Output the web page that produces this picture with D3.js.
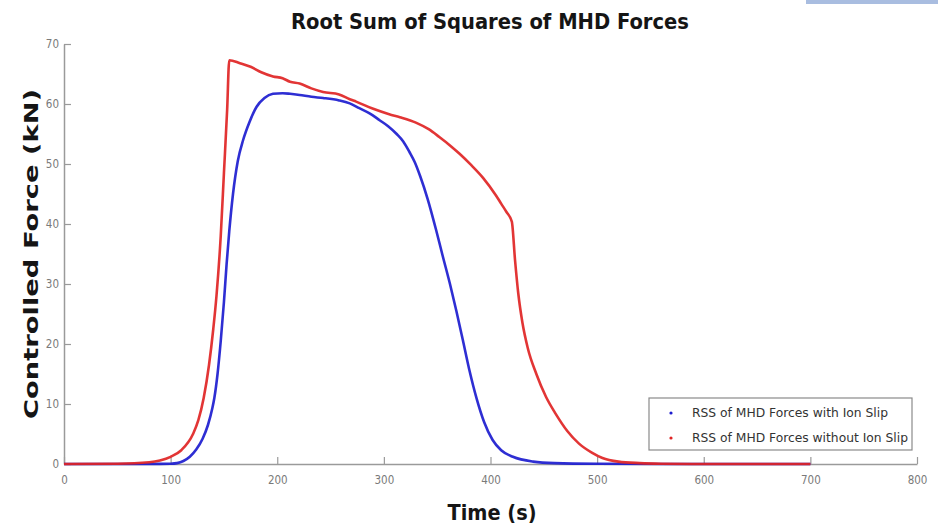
<!DOCTYPE html>
<html>
<head>
<meta charset="utf-8">
<script src="https://cdn.jsdelivr.net/npm/d3@7"></script>
<style>
  html, body { margin: 0; padding: 0; background: #fff; }
  svg { display: block; }
  .cond { font-family: "DejaVu Sans Condensed", "Liberation Sans Narrow", "DejaVu Sans", sans-serif; font-stretch: condensed; }
</style>
</head>
<body>
<svg id="chart" width="938" height="524"></svg>
<script>
// Time samples (s) and RSS of MHD forces (kN)
const timeWithSlip = [0, 60, 90, 100, 106, 112, 118, 124, 130, 135, 139, 141, 144, 147, 150, 152.5, 155, 158.5, 163, 168, 174, 180.5, 188, 196, 205, 212, 221, 232, 243, 258, 268, 277, 287, 296, 304, 312, 318, 324, 329, 334, 341, 349, 355, 362, 368, 374, 380, 387, 394, 402, 410, 421, 440, 460, 500, 600, 700];
const forceWithSlip = [0, 0, 0.02, 0.05, 0.15, 0.5, 1.2, 2.4, 4.2, 6.5, 9.2, 11, 15, 20.5, 27, 33.3, 38.8, 45, 50.5, 54, 57, 59.5, 61, 61.7, 61.8, 61.7, 61.5, 61.2, 61.0, 60.6, 60.1, 59.3, 58.4, 57.3, 56.3, 55.0, 53.8, 52.0, 50.3, 48.0, 44.2, 39, 34.8, 30, 25.5, 20.7, 15.8, 10.9, 7, 4, 2.3, 1.2, 0.4, 0.15, 0.05, 0, 0];

const timeNoSlip = [0, 50, 80, 90, 100, 110, 121, 126, 131, 136, 140, 143, 147, 150, 153, 155, 165, 175, 185, 196, 205, 212, 221, 232, 243, 258, 268, 274, 290, 305, 315, 330, 342, 352, 362, 371, 382, 393, 405, 410, 415, 420, 423, 426, 430, 435, 443, 452, 461, 472, 483, 495, 505, 520, 540, 560, 600, 700];
const forceNoSlip = [0, 0.05, 0.3, 0.6, 1.2, 2.3, 5, 7.3, 11, 16.5, 22.5, 28, 38, 48.5, 59, 67.3, 66.8, 66.2, 65.3, 64.6, 64.3, 63.7, 63.4, 62.6, 62.0, 61.6, 60.8, 60.4, 59.2, 58.3, 57.8, 56.9, 55.8, 54.5, 53.1, 51.7, 49.8, 47.7, 44.8, 43.4, 42.0, 40.4, 34, 28.5, 23.5, 19.3, 15, 11.2, 8.4, 5.5, 3.4, 1.9, 1.0, 0.4, 0.15, 0.05, 0, 0];

const xTicks = [0, 100, 200, 300, 400, 500, 600, 700, 800];
const yTicks = [0, 10, 20, 30, 40, 50, 60, 70];
const seriesNames = ["RSS of MHD Forces with Ion Slip", "RSS of MHD Forces without Ion Slip"];
const seriesColors = ["#1c1ccf", "#e02424"];

const svg = d3.select("#chart");
const margin = { left: 64, right: 21, top: 44, bottom: 60 };
const W = 938, H = 524;

const x = d3.scaleLinear().domain([0, 800]).range([margin.left, W - margin.right]);
const y = d3.scaleLinear().domain([0, 70]).range([H - margin.bottom, margin.top]);

// thin strip in the top-right corner
svg.append("rect").attr("x", 806).attr("y", 0).attr("width", 132).attr("height", 4)
  .attr("fill", "#a9bde0");

// axes: ticks point inward, grey lines
const axisColor = "#9a9a9a";
const xAxis = svg.append("g").attr("transform", `translate(0,${y(0)})`)
  .call(d3.axisBottom(x).tickValues(xTicks).tickSize(-7).tickPadding(10).tickSizeOuter(0));
const yAxis = svg.append("g").attr("transform", `translate(${x(0)},0)`)
  .call(d3.axisLeft(y).tickValues(yTicks).tickSize(-7).tickPadding(5).tickSizeOuter(0));

[xAxis, yAxis].forEach(g => {
  g.attr("font-family", null).attr("font-size", null);
  g.select(".domain").attr("stroke", axisColor).attr("stroke-width", 1.5);
  g.selectAll(".tick line").attr("stroke", axisColor).attr("stroke-width", 1.2);
  g.selectAll(".tick text").attr("fill", "#7a7a7a")
    .attr("class", "cond").style("font-size", "11.5px");
});
xAxis.selectAll(".tick text").attr("dy", "0.9em");

// data lines
const line = d3.line().x(d => x(d[0])).y(d => y(d[1])).curve(d3.curveMonotoneX);
const series = [
  d3.zip(timeWithSlip, forceWithSlip),
  d3.zip(timeNoSlip, forceNoSlip)
];
series.forEach((pts, i) => {
  svg.append("path").datum(pts)
    .attr("d", line)
    .attr("fill", "none")
    .attr("stroke", seriesColors[i])
    .attr("stroke-width", 2.6)
    .attr("stroke-linejoin", "round")
    .attr("stroke-opacity", 0.92);
});

// title and axis labels
svg.append("text").attr("class", "cond")
  .attr("x", 490).attr("y", 29).attr("text-anchor", "middle")
  .attr("font-weight", "bold").attr("font-size", 21).attr("fill", "#151515")
  .attr("textLength", 398).attr("lengthAdjust", "spacingAndGlyphs")
  .text("Root Sum of Squares of MHD Forces");

svg.append("text").attr("class", "cond")
  .attr("x", 492).attr("y", 520).attr("text-anchor", "middle")
  .attr("font-weight", "bold").attr("font-size", 21).attr("fill", "#151515")
  .attr("textLength", 89).attr("lengthAdjust", "spacingAndGlyphs")
  .text("Time (s)");

svg.append("text")
  .attr("transform", `translate(38,254) rotate(-90)`)
  .attr("text-anchor", "middle")
  .attr("font-family", "DejaVu Sans, sans-serif")
  .attr("font-weight", "bold").attr("font-size", 19).attr("fill", "#151515")
  .attr("textLength", 330).attr("lengthAdjust", "spacingAndGlyphs")
  .text("Controlled Force (kN)");

// legend
const lg = svg.append("g");
lg.append("rect").attr("x", 649).attr("y", 398).attr("width", 263).attr("height", 52)
  .attr("fill", "#fff").attr("stroke", "#8a8a8a").attr("stroke-width", 1.2);
seriesNames.forEach((name, i) => {
  const cy = 413 + i * 25;
  lg.append("circle").attr("cx", 671).attr("cy", cy).attr("r", 1.6).attr("fill", seriesColors[i]);
  lg.append("text").attr("class", "cond")
    .attr("x", 692).attr("y", cy + 4).attr("font-size", 12.5).attr("fill", "#333")
    .attr("textLength", i === 0 ? 196 : 216).attr("lengthAdjust", "spacingAndGlyphs")
    .text(name);
});
</script>
</body>
</html>
